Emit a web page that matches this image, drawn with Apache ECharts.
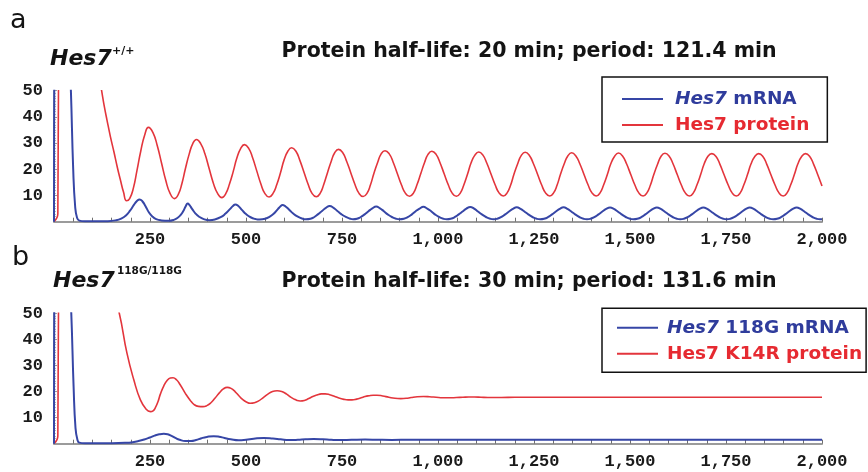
<!DOCTYPE html>
<html>
<head>
<meta charset="utf-8">
<title>Hes7 oscillation model</title>
<script src="https://cdn.jsdelivr.net/npm/echarts@6/dist/echarts.min.js"></script>
<style>
  html, body { margin: 0; padding: 0; background: #fff; }
  #chart { width: 868px; height: 472px; }
</style>
</head>
<body>
<div id="chart"></div>
<script>
// Simulated Hes7 mRNA / protein levels (time in min).
// Values above 50 are off the plot and get clipped by the axis.

var xTicks = [250, 500, 750, 1000, 1250, 1500, 1750, 2000];
var yTicks = [10, 20, 30, 40, 50];

// panel a: Hes7 +/+
var wtMrna = [
  [0, 0], [1, 62], [40, 64], [44, 50], [50, 20], [55, 6], [60, 1.5], [66, 0.4], [80, 0.15], [140, 0.2],
  [160, 0.5], [175, 1.2], [188, 2.5], [198, 4.2], [208, 6.4], [216, 7.9], [223, 8.5], [230, 7.8],
  [238, 6.0], [247, 3.6], [256, 2.0], [266, 1.0], [280, 0.5], [298, 0.35],
  [312, 0.7], [322, 1.5], [330, 2.6], [338, 4.4], [343, 5.9], [348, 6.9], [353, 6.3], [360, 4.8],
  [368, 3.2], [378, 1.9], [390, 1.0], [405, 0.6],
  [420, 0.9], [434, 1.7], [446, 3.0], [458, 4.8], [466, 6.0], [472, 6.6], [480, 6.0], [490, 4.4],
  [500, 2.9], [512, 1.7], [525, 1.0], [535, 0.8],
  [550, 1.1], [562, 1.9], [572, 3.0], [583, 4.8], [590, 5.9], [595, 6.4], [603, 5.8], [613, 4.5],
  [623, 3.1], [635, 1.9], [646, 1.2], [656, 0.9],
  [668, 1.1], [677, 1.7], [688, 2.9], [698, 4.1], [708, 5.3], [718, 6.0], [728, 5.3], [738, 4.1],
  [748, 2.9], [760, 1.8], [770, 1.2], [779, 0.9],
  [789, 1.1], [798, 1.7], [809, 2.8], [819, 4.0], [829, 5.1], [839, 5.8], [849, 5.1], [859, 4.0],
  [869, 2.8], [881, 1.7], [891, 1.1], [900, 0.9],
  [911, 1.1], [921, 1.7], [932, 2.8], [942, 4.0], [952, 5.0], [962, 5.7], [972, 5.0], [982, 4.0],
  [992, 2.8], [1004, 1.7], [1014, 1.1], [1023, 0.9],
  [1033, 1.1], [1043, 1.7], [1054, 2.8], [1064, 3.9], [1074, 5.0], [1084, 5.6], [1094, 5.0], [1104, 3.9],
  [1114, 2.8], [1126, 1.7], [1136, 1.1], [1145, 0.9],
  [1154, 1.1], [1164, 1.7], [1175, 2.8], [1185, 3.9], [1195, 4.9], [1205, 5.5], [1215, 4.9], [1225, 3.9],
  [1235, 2.8], [1247, 1.7], [1257, 1.1], [1266, 0.9],
  [1276, 1.1], [1286, 1.7], [1297, 2.8], [1307, 3.9], [1317, 4.9], [1327, 5.5], [1337, 4.9], [1347, 3.9],
  [1357, 2.8], [1369, 1.7], [1379, 1.1], [1388, 0.9],
  [1397, 1.1], [1407, 1.7], [1418, 2.8], [1428, 3.9], [1438, 4.9], [1448, 5.4], [1458, 4.9], [1468, 3.9],
  [1478, 2.8], [1490, 1.7], [1500, 1.1], [1509, 0.9],
  [1519, 1.1], [1529, 1.7], [1540, 2.8], [1550, 3.9], [1560, 4.9], [1570, 5.4], [1580, 4.9], [1590, 3.9],
  [1600, 2.8], [1612, 1.7], [1622, 1.1], [1631, 0.9],
  [1640, 1.1], [1650, 1.7], [1661, 2.8], [1671, 3.9], [1681, 4.9], [1691, 5.4], [1701, 4.9], [1711, 3.9],
  [1721, 2.8], [1733, 1.7], [1743, 1.1], [1752, 0.9],
  [1761, 1.1], [1771, 1.7], [1782, 2.8], [1792, 3.9], [1802, 4.9], [1812, 5.4], [1822, 4.9], [1832, 3.9],
  [1842, 2.8], [1854, 1.7], [1864, 1.1], [1873, 0.9],
  [1883, 1.1], [1893, 1.7], [1904, 2.8], [1914, 3.9], [1924, 4.9], [1934, 5.4], [1944, 4.9], [1954, 3.9],
  [1964, 2.8], [1976, 1.7], [1986, 1.1], [1995, 0.9], [2000, 0.9]
];

var wtProtein = [
  [0, 0], [10, 3], [12, 60], [60, 80], [110, 62], [124, 50], [131, 44], [138, 38.8], [147, 32.4],
  [156, 26.7], [165, 20.7], [173, 15.9], [181, 11.3], [189, 8.0], [197, 8.8], [207, 13.0],
  [216, 19.5], [226, 27.0], [236, 33.0], [246, 36.0],
  [258, 33.9], [269, 29.0], [280, 22.4], [291, 15.8], [302, 10.9], [314, 8.8], [324, 10.5],
  [333, 14.5], [342, 20.1], [352, 25.8], [362, 30.0], [371, 31.4],
  [382, 29.8], [393, 25.9], [404, 20.3], [415, 14.7], [426, 10.8], [437, 9.2], [447, 10.6],
  [457, 14.4], [467, 19.3], [476, 24.2], [486, 27.9], [496, 29.4],
  [507, 28.0], [517, 24.5], [528, 19.4], [539, 14.3], [549, 10.8], [560, 9.4], [570, 10.7],
  [580, 14.1], [590, 18.8], [599, 23.5], [609, 26.9], [619, 28.2],
  [630, 26.9], [640, 23.5], [651, 18.9], [662, 14.2], [672, 10.8], [683, 9.5], [693, 10.8],
  [702, 14.0], [712, 18.6], [722, 23.1], [731, 26.3], [741, 27.6],
  [752, 26.3], [762, 23.1], [773, 18.6], [784, 14.1], [794, 10.9], [805, 9.6], [815, 10.8],
  [824, 14.0], [833, 18.4], [843, 22.7], [852, 25.9], [862, 27.1],
  [873, 25.9], [883, 22.8], [894, 18.4], [905, 14.0], [915, 10.9], [926, 9.7], [936, 10.9],
  [945, 14.0], [955, 18.3], [965, 22.6], [974, 25.7], [984, 26.9],
  [995, 25.7], [1005, 22.6], [1016, 18.3], [1027, 14.0], [1037, 10.9], [1048, 9.7], [1058, 10.9],
  [1067, 13.9], [1077, 18.2], [1086, 22.4], [1096, 25.4], [1106, 26.6],
  [1117, 25.4], [1127, 22.4], [1138, 18.2], [1149, 14.0], [1159, 11.0], [1170, 9.8], [1180, 11.0],
  [1189, 13.9], [1198, 18.2], [1208, 22.3], [1217, 25.3], [1227, 26.5],
  [1238, 25.3], [1248, 22.3], [1259, 18.2], [1270, 14.0], [1280, 11.0], [1291, 9.8], [1301, 11.0],
  [1310, 13.9], [1319, 18.1], [1329, 22.2], [1338, 25.1], [1348, 26.3],
  [1359, 25.1], [1369, 22.2], [1380, 18.1], [1391, 14.0], [1401, 11.0], [1412, 9.8], [1422, 11.0],
  [1431, 13.9], [1441, 18.0], [1450, 22.1], [1460, 25.0], [1470, 26.2],
  [1481, 25.0], [1491, 22.1], [1502, 18.0], [1513, 13.9], [1523, 11.0], [1534, 9.8], [1544, 11.0],
  [1553, 13.9], [1562, 18.0], [1572, 22.0], [1581, 25.0], [1591, 26.1],
  [1602, 25.0], [1612, 22.1], [1623, 18.0], [1634, 13.9], [1644, 11.0], [1655, 9.8], [1665, 11.0],
  [1674, 13.9], [1684, 18.0], [1693, 22.0], [1703, 25.0], [1713, 26.0],
  [1724, 24.9], [1734, 22.0], [1745, 17.9], [1756, 13.9], [1766, 11.0], [1777, 9.8], [1787, 11.0],
  [1796, 13.9], [1806, 18.0], [1815, 22.0], [1825, 24.9], [1835, 26.0],
  [1846, 24.9], [1856, 22.0], [1867, 17.9], [1878, 13.9], [1888, 11.0], [1899, 9.8], [1909, 11.0],
  [1918, 13.9], [1928, 18.0], [1937, 22.0], [1947, 24.9], [1957, 26.0],
  [1968, 24.9], [1978, 22.0], [1989, 17.9], [2000, 13.6]
];

// panel b: Hes7 118G/118G
var mutMrna = [
  [0, 0], [1, 62], [40, 64], [45, 50], [51, 22], [56, 6], [61, 1.5], [66, 0.4], [80, 0.15],
  [150, 0.2], [185, 0.35], [205, 0.6], [220, 1.0], [235, 1.6], [250, 2.4], [262, 3.1], [274, 3.6],
  [286, 3.8], [296, 3.6], [306, 3.0], [316, 2.2], [327, 1.5], [342, 1.0], [357, 1.0], [370, 1.4],
  [384, 2.1], [398, 2.6], [416, 2.9], [430, 2.7], [444, 2.2], [460, 1.7], [481, 1.3], [500, 1.5],
  [520, 1.9], [546, 2.2], [570, 2.0], [590, 1.7], [612, 1.4], [635, 1.5], [655, 1.7], [676, 1.8],
  [700, 1.7], [722, 1.5], [745, 1.4], [775, 1.5], [810, 1.6], [845, 1.5], [880, 1.45], [920, 1.5],
  [960, 1.55], [1000, 1.5], [2000, 1.5]
];

var mutProtein = [
  [0, 0], [10, 3], [12, 60], [80, 80], [150, 60], [170, 50], [190, 34.7], [208, 24.4], [225, 16.8],
  [240, 13.2], [251, 12.3], [258, 12.6], [264, 13.8], [271, 16.2], [277, 19.0], [286, 22.2],
  [295, 24.3], [303, 25.2], [310, 25.3], [319, 24.5], [329, 22.5], [342, 19.3], [355, 16.6],
  [365, 15.0], [376, 14.3], [388, 14.2], [398, 14.6], [408, 15.6], [419, 17.4], [430, 19.4],
  [441, 21.0], [451, 21.6], [461, 21.2], [472, 19.9], [482, 18.3], [491, 17.0], [501, 16.0],
  [511, 15.5], [522, 15.7], [533, 16.4], [545, 17.7], [557, 19.0], [569, 20.0], [581, 20.3],
  [593, 20.0], [605, 19.1], [615, 18.0], [624, 17.2], [633, 16.6], [641, 16.4], [652, 16.6],
  [662, 17.2], [674, 18.1], [685, 18.7], [696, 19.1], [706, 19.1], [718, 18.8], [730, 18.2],
  [742, 17.5], [755, 17.0], [766, 16.8], [776, 16.8], [788, 17.1], [800, 17.6], [810, 18.1],
  [820, 18.4], [831, 18.6], [841, 18.6], [856, 18.3], [872, 17.8], [888, 17.4], [903, 17.3],
  [917, 17.4], [930, 17.7], [946, 18.0], [962, 18.1], [978, 18.0], [995, 17.8], [1012, 17.6],
  [1030, 17.6], [1048, 17.7], [1065, 17.8], [1080, 17.9], [1095, 17.9], [1112, 17.8], [1130, 17.7],
  [1148, 17.7], [1165, 17.7], [1200, 17.8], [1240, 17.8], [2000, 17.8]
];

(function () {
  var BLUE = "#3646a6";
  var RED = "#e3353c";
  var BLUE_TXT = "#2f3c9c";
  var RED_TXT = "#e62a31";
  var SANS = "DejaVu Sans";
  var MONO = "Liberation Mono";

  var el = document.getElementById("chart");
  var chart = echarts.init(el, null, { renderer: "canvas" });

  function fmtX(v) {
    if (xTicks.indexOf(v) < 0) return "";
    return String(v).replace(/\B(?=(\d{3})+(?!\d))/g, ",");
  }
  function fmtY(v) {
    return yTicks.indexOf(v) < 0 ? "" : String(v);
  }

  function xAxisFor(idx) {
    return {
      type: "value", gridIndex: idx, min: 0, max: 2000, interval: 250,
      axisLine: { lineStyle: { color: "#9b9b9b", width: 2 } },
      axisTick: { inside: true, length: 4, lineStyle: { color: "#6f6f6f", width: 1 } },
      minorTick: { show: true, splitNumber: 5, length: 4, lineStyle: { color: "#6f6f6f", width: 1 } },
      splitLine: { show: false },
      axisLabel: {
        formatter: fmtX, margin: 10, color: "#1b1b1b",
        fontFamily: MONO, fontWeight: "bold", fontSize: 17
      }
    };
  }
  function yAxisFor(idx) {
    return {
      type: "value", gridIndex: idx, min: 0, max: 50, interval: 10,
      axisLine: { show: true, lineStyle: { color: "#9b9b9b", width: 1.5 } },
      axisTick: { inside: true, length: 3, lineStyle: { color: "#9b9b9b" } },
      minorTick: { show: true, splitNumber: 10, length: 2, lineStyle: { color: "#bbbbbb" } },
      splitLine: { show: false },
      axisLabel: {
        formatter: fmtY, margin: 11, color: "#1b1b1b",
        fontFamily: MONO, fontWeight: "bold", fontSize: 17
      }
    };
  }

  function lineSeries(name, data, color, width, idx) {
    return {
      name: name, type: "line", data: data, color: color,
      xAxisIndex: idx, yAxisIndex: idx,
      showSymbol: false, symbol: "none", smooth: 0.5, clip: true,
      lineStyle: { color: color, width: width }
    };
  }

  function legendFor(idx, top, padding, textPad, names) {
    return {
      orient: "vertical", left: 602, top: top, padding: padding,
      itemWidth: 41, itemHeight: 2, itemGap: 6, icon: "rect",
      borderColor: "#111", borderWidth: 1.5, backgroundColor: "#fff",
      selectedMode: false, data: names,
      formatter: function (name) {
        if (name.indexOf("mRNA") >= 0) {
          return "{bi|Hes7}{b|" + name.slice(4) + "}";
        }
        return "{r|" + name + "}";
      },
      textStyle: {
        fontFamily: SANS, fontWeight: "bold", fontSize: 18.5, lineHeight: 20,
        padding: [0, 0, 0, textPad],
        rich: {
          bi: { color: BLUE_TXT, fontFamily: SANS, fontWeight: "bold", fontStyle: "italic", fontSize: 18.5, lineHeight: 20 },
          b: { color: BLUE_TXT, fontFamily: SANS, fontWeight: "bold", fontSize: 18.5, lineHeight: 20 },
          r: { color: RED_TXT, fontFamily: SANS, fontWeight: "bold", fontSize: 18.5, lineHeight: 20 }
        }
      }
    };
  }

  function txt(x, y, text, size, weight, style, color) {
    return {
      type: "text", x: x, y: y, silent: true,
      style: {
        text: text, fill: color || "#141414", fontFamily: SANS,
        fontSize: size, fontWeight: weight || "normal", fontStyle: style || "normal",
        verticalAlign: "middle"
      }
    };
  }

  chart.setOption({
    backgroundColor: "#fff",
    animation: false,
    grid: [
      { left: 54, top: 90.7, width: 768, height: 131 },
      { left: 54, top: 313.3, width: 768, height: 130.4 }
    ],
    xAxis: [xAxisFor(0), xAxisFor(1)],
    yAxis: [yAxisFor(0), yAxisFor(1)],
    legend: [
      legendFor(0, 77, [12, 18, 7, 20], 7, ["Hes7 mRNA", "Hes7 protein"]),
      legendFor(1, 308.3, [9.5, 4, 8.5, 15], 4, ["Hes7 118G mRNA", "Hes7 K14R protein"])
    ],
    series: [
      lineSeries("Hes7 protein", wtProtein, RED, 1.6, 0),
      lineSeries("Hes7 mRNA", wtMrna, BLUE, 2, 0),
      lineSeries("Hes7 K14R protein", mutProtein, RED, 1.6, 1),
      lineSeries("Hes7 118G mRNA", mutMrna, BLUE, 2, 1)
    ],
    graphic: [
      txt(10, 21, "a", 27),
      txt(50, 59, "Hes7", 22, "bold", "italic"),
      txt(112, 51, "+/+", 11, "bold"),
      txt(281.5, 52, "Protein half-life: 20 min; period: 121.4 min", 20.5, "bold"),
      txt(12, 258, "b", 27),
      txt(53, 281.5, "Hes7", 22, "bold", "italic"),
      txt(117, 271.5, "118G/118G", 10.5, "bold"),
      txt(281.5, 282, "Protein half-life: 30 min; period: 131.6 min", 20.5, "bold")
    ]
  });
})();
</script>
</body>
</html>
